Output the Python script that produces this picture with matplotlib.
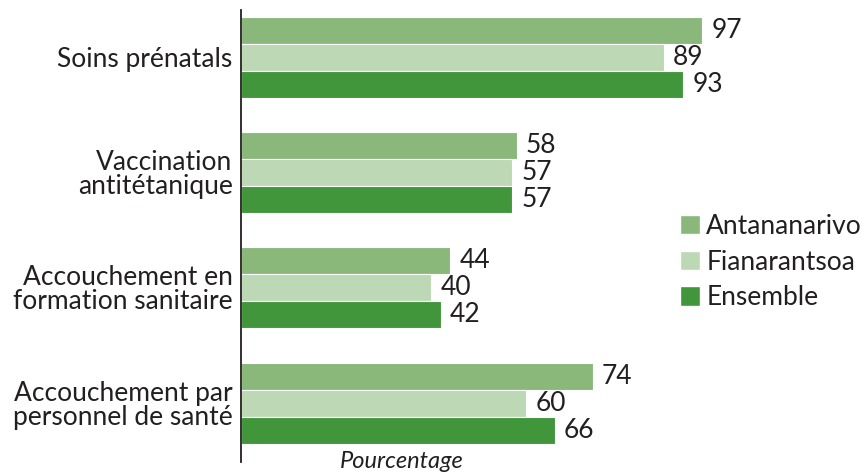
import matplotlib
matplotlib.use("Agg")
import matplotlib.pyplot as plt
import numpy as np
from matplotlib.patches import Patch

categories = ["Soins prénatals", "Vaccination\nantitétanique",
              "Accouchement en\nformation sanitaire", "Accouchement par\npersonnel de santé"]
series_names = ["Antananarivo", "Fianarantsoa", "Ensemble"]
antananarivo = [97, 58, 44, 74]
fianarantsoa = [89, 57, 40, 60]
ensemble = [93, 57, 42, 66]
colors = ["#8ab87b", "#bdd8b4", "#41963c"]

plt.rcParams['font.family'] = ['Lato', 'DejaVu Sans']

fig = plt.figure(figsize=(8.67, 4.74), dpi=100)
W, H = 867, 474
ax_left, ax_right, ax_top, ax_bot = 241, 760, 10, 462
ax = fig.add_axes([ax_left / W, 1 - ax_bot / H, (ax_right - ax_left) / W, (ax_bot - ax_top) / H])

px_per_unit = 4.75
ax.set_xlim(0, (ax_right - ax_left) / px_per_unit)
ax.set_ylim(3.51, -0.41)

y = np.arange(len(categories))
bh = 0.234
all_series = [antananarivo, fianarantsoa, ensemble]
for i, (vals, c, name) in enumerate(zip(all_series, colors, series_names)):
    pos = y + (i - 1) * bh
    ax.barh(pos, vals, height=bh, color=c, edgecolor="white", linewidth=0.8, label=name, clip_on=False)
    for p, v in zip(pos, vals):
        ax.text(v + 2.0, p, str(v), va="center", ha="left", fontsize=19, color="#231f20")

ax.set_yticks(y)
ax.set_yticklabels(categories, fontsize=19, color="#231f20", linespacing=0.95)
ax.tick_params(axis="y", length=0, pad=6)
ax.set_xticks([])
for s in ["top", "right", "bottom"]:
    ax.spines[s].set_visible(False)
ax.spines["left"].set_linewidth(1.3)
ax.spines["left"].set_color("#231f20")

fig.text(402 / W, 6 / H, "Pourcentage", fontsize=17, style="italic", color="#231f20",
         ha="center", va="baseline")

handles = [Patch(facecolor=c, edgecolor="white", label=n) for c, n in zip(colors, series_names)]
fig.legend(handles=handles, loc="center left", bbox_to_anchor=(680 / W, 1 - 262 / H),
           frameon=False, fontsize=19, handlelength=0.75, handleheight=0.75,
           handletextpad=0.25, labelspacing=0.4, labelcolor="#231f20", borderaxespad=0,
           borderpad=0)

fig.savefig("out.png", dpi=100)
